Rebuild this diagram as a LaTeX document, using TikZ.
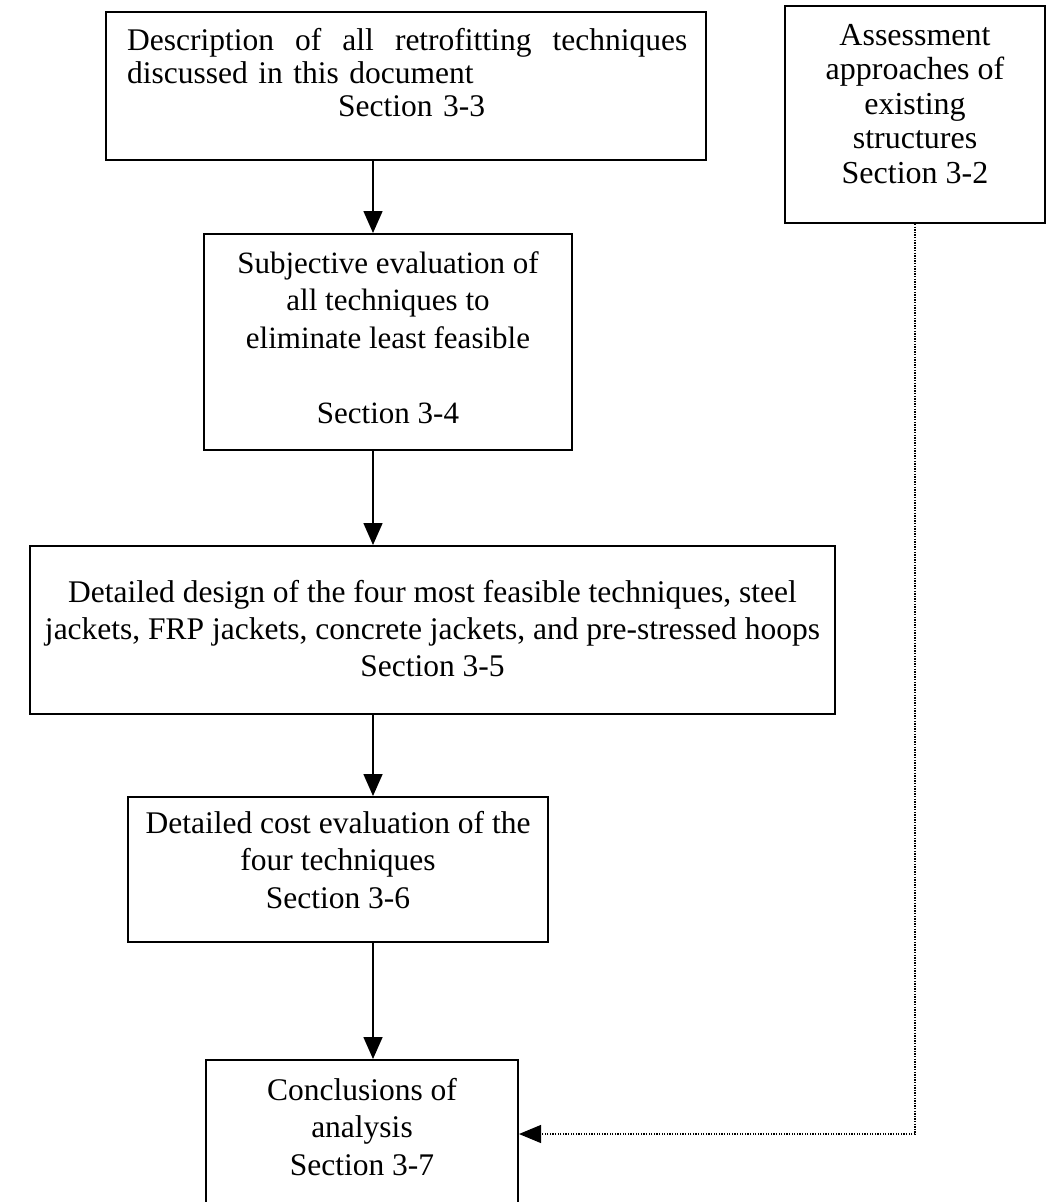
\documentclass[tikz,border=0pt]{standalone}
\usepackage{fontspec}
\setmainfont{Liberation Serif}
\usetikzlibrary{arrows.meta}
\begin{document}
\begin{tikzpicture}[x=1pt,y=-1pt,
  box/.style={draw, line width=2pt, inner sep=0pt},
  txt/.style={inner sep=0pt, align=center, font=\fontsize{31.5}{37.5}\selectfont},
  arr/.style={line width=1.6pt, -{Triangle[length=22pt,width=19pt]}},
  dotarr/.style={line width=1.1pt, dash pattern=on 1.3pt off 1.3pt, -{Triangle[length=22pt,width=18pt]}}]
\useasboundingbox (0,0) rectangle (1046,1202);
% boxes
\node[box, minimum width=600pt, minimum height=148pt] (b1) at (406,86) {};
\node[box, minimum width=260pt, minimum height=217pt] (b0) at (915,114.5) {};
\node[box, minimum width=368pt, minimum height=216pt] (b2) at (388,342) {};
\node[box, minimum width=805pt, minimum height=168pt] (b3) at (432.5,630) {};
\node[box, minimum width=420pt, minimum height=145pt] (b4) at (338,869.5) {};
\node[box, minimum width=312pt, minimum height=160pt] (b5) at (362,1140) {};
% texts
\node[txt, align=left, text width=560pt, anchor=north west, font=\fontsize{31.5}{33}\selectfont] (t1) at (127,28.5)
  {\makebox[560pt][l]{Description\hfill of\hfill all\hfill retrofitting\hfill techniques}\\discussed in this document\\\hspace*{211pt}Section 3-3};
\node[txt, anchor=north, font=\fontsize{32}{34.5}\selectfont] (t0) at (915,24)
  {Assessment\\approaches of\\existing\\structures\\Section 3-2};
\node[txt, anchor=north, font=\fontsize{31}{37.5}\selectfont] (t2) at (388,251)
  {Subjective evaluation of\\all techniques to\\eliminate least feasible\\[37.5pt]Section 3-4};
\node[txt, anchor=north, font=\fontsize{31.5}{37}\selectfont] (t3) at (432.5,580)
  {Detailed design of the four most feasible techniques, steel\\jackets, FRP jackets, concrete jackets, and pre-stressed hoops\\Section 3-5};
\node[txt, anchor=north] (t4) at (338,811)
  {Detailed cost evaluation of the\\four techniques\\Section 3-6};
\node[txt, anchor=north] (t5) at (362,1078)
  {Conclusions of\\analysis\\Section 3-7};
% connectors
\coordinate (ax) at (373,0);
\coordinate (dy) at (0,1134);
\draw[arr] (b1.south -| ax) -- (b2.north -| ax);
\draw[arr] (b2.south -| ax) -- (b3.north -| ax);
\draw[arr] (b3.south -| ax) -- (b4.north -| ax);
\draw[arr] (b4.south -| ax) -- (b5.north -| ax);
\draw[dotarr] (b0.south) |- (b5.east |- dy);
\end{tikzpicture}
\end{document}
